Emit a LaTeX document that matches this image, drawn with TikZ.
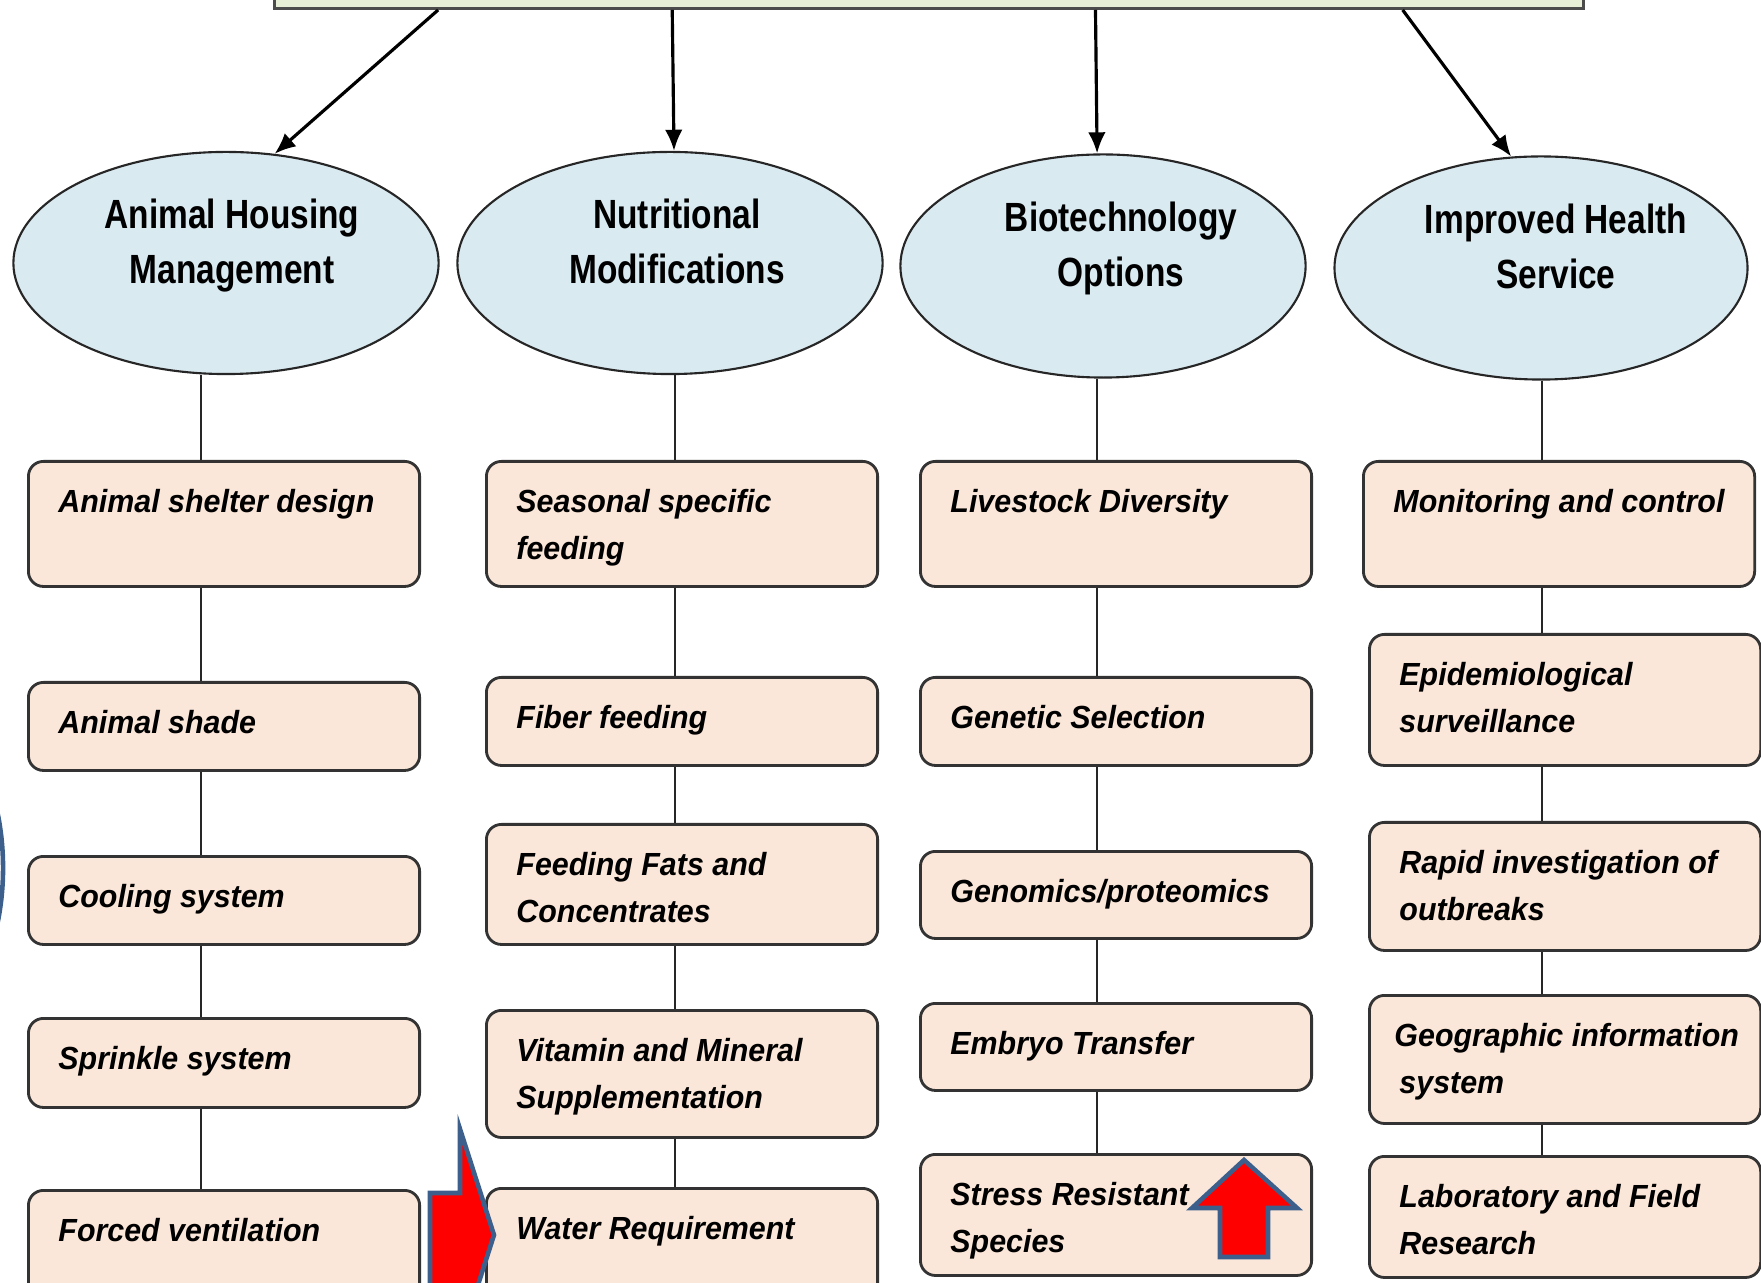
\documentclass[tikz,border=0pt]{standalone}
\usepackage{fontspec}
\setmainfont{Liberation Sans}
\newfontfamily\leaffont[FakeStretch=0.95]{Liberation Sans}
\newfontfamily\ovalfont[FakeStretch=0.82]{Liberation Sans}
\usetikzlibrary{shapes.geometric,arrows.meta}

\definecolor{leaffill}{HTML}{FBE7D9}
\definecolor{ovalfill}{HTML}{DAEAF1}
\definecolor{goalfill}{HTML}{E7F0D6}
\definecolor{markblue}{HTML}{3D5F8B}

\newcommand{\leaftext}[2]{\parbox[c][#1][t]{3.31cm}{\raggedright\strut #2}}
\newcommand{\ovaltext}[3][0cm]{\begin{tabular}{@{\hspace{#1}}c@{}}#2\\#3\\[0.36cm]\end{tabular}}

\tikzset{
  leaf/.style={draw=black!80, line width=0.8pt, fill=leaffill, rounded corners=0.15cm,
    anchor=north west, inner xsep=0.3cm, inner ysep=0.18cm,
    font=\leaffont\fontsize{9.1}{13.4}\selectfont\bfseries\itshape},
  oval/.style={ellipse, draw=black!85, line width=0.6pt, fill=ovalfill, inner sep=0pt,
    font=\ovalfont\fontsize{11.6}{15.6}\selectfont\bfseries},
  goalbox/.style={draw=black!70, line width=0.8pt, fill=goalfill, inner sep=0pt,
    minimum width=13.08cm, minimum height=1cm},
  feed/.style={-{Latex[length=6pt,width=5pt]}, line width=0.9pt},
  spine/.style={line width=0.6pt, black!85},
  bigarrow/.style={draw=markblue, line width=1.3pt, fill=red, line join=miter}
}

\begin{document}
\begin{tikzpicture}[x=0.01cm, y=-0.01cm]
\clip (0,0) rectangle (1761,1283);

\node[goalbox, anchor=south west] (goal) at (273,10) {};

\node[oval, minimum width=4.25cm, minimum height=2.22cm] (housing) at (226,263) {\ovaltext[0.12cm]{Animal Housing}{Management}};
\node[oval, minimum width=4.25cm, minimum height=2.22cm] (nutrition) at (670,263) {\ovaltext[0.14cm]{Nutritional}{Modifications}};
\node[oval, minimum width=4.05cm, minimum height=2.23cm] (biotech) at (1103,266) {\ovaltext[0.36cm]{Biotechnology}{Options}};
\node[oval, minimum width=4.11cm, minimum height=2.23cm] (health) at (1541,268) {\ovaltext[0.3cm]{Improved Health}{Service}};

\draw[feed] ([xshift=1.65cm]goal.south west) -- (housing.66);
\draw[feed] ([xshift=3.99cm]goal.south west) -- ([xshift=0.04cm]nutrition.north);
\draw[feed] ([xshift=8.22cm]goal.south west) -- (biotech.93);
\draw[feed] ([xshift=11.29cm]goal.south west) -- (health.105);

\node[leaf] (shelter) at (27,460) {\leaftext{0.89cm}{Animal shelter design}};
\node[leaf] (shade) at (27,681) {\leaftext{0.52cm}{Animal shade}};
\node[leaf] (cooling) at (27,855) {\leaftext{0.52cm}{Cooling system}};
\node[leaf] (sprinkle) at (27,1017) {\leaftext{0.53cm}{Sprinkle system}};
\node[leaf] (ventilation) at (27,1189) {\leaftext{0.85cm}{Forced ventilation}};

\node[leaf] (seasonal) at (485,460) {\leaftext{0.89cm}{Seasonal specific\\feeding}};
\node[leaf] (fiber) at (485,676) {\leaftext{0.52cm}{Fiber feeding}};
\node[leaf] (fats) at (485,823) {\leaftext{0.84cm}{Feeding Fats and\\Concentrates}};
\node[leaf] (vitamin) at (485,1009) {\leaftext{0.91cm}{Vitamin and Mineral\\Supplementation}};
\node[leaf] (water) at (485,1187) {\leaftext{0.85cm}{Water Requirement}};

\node[leaf] (diversity) at (919,460) {\leaftext{0.89cm}{Livestock Diversity}};
\node[leaf] (genetic) at (919,676) {\leaftext{0.52cm}{Genetic Selection}};
\node[leaf] (genomics) at (919,850) {\leaftext{0.51cm}{Genomics/proteomics}};
\node[leaf] (embryo) at (919,1002) {\leaftext{0.51cm}{Embryo Transfer}};
\node[leaf] (stress) at (919,1153) {\leaftext{0.85cm}{Stress Resistant\\Species}};

\node[leaf] (monitoring) at (1362,460) {\leaftext{0.89cm}{Monitoring and control}};
\node[leaf] (surveillance) at (1368,633) {\leaftext{0.95cm}{Epidemiological\\surveillance}};
\node[leaf] (outbreaks) at (1368,821) {\leaftext{0.92cm}{Rapid investigation of\\outbreaks}};
\node[leaf] (gis) at (1368,994) {\leaftext{0.92cm}{\hspace*{-0.05cm}\mbox{Geographic information}\\system}};
\node[leaf] (research) at (1368,1155) {\leaftext{0.85cm}{Laboratory and Field\\Research}};

\coordinate (col1) at (201,0);
\coordinate (col2) at (675,0);
\coordinate (col3) at (1097,0);
\coordinate (col4) at (1542,0);

\foreach \a/\b/\c in {housing/shelter/col1, shelter/shade/col1, shade/cooling/col1, cooling/sprinkle/col1, sprinkle/ventilation/col1,
  nutrition/seasonal/col2, seasonal/fiber/col2, fiber/fats/col2, fats/vitamin/col2, vitamin/water/col2,
  biotech/diversity/col3, diversity/genetic/col3, genetic/genomics/col3, genomics/embryo/col3, embryo/stress/col3,
  health/monitoring/col4, monitoring/surveillance/col4, surveillance/outbreaks/col4, outbreaks/gis/col4, gis/research/col4}
  \draw[spine] (\a.south -| \c) -- (\b.north -| \c);

\draw[bigarrow] (430,1193) -- (460,1193) -- (460,1129) -- (494,1235) -- (460,1341) -- (460,1300) -- (430,1300) -- cycle;
\draw[bigarrow] (1244,1160) -- (1297,1208) -- (1268,1208) -- (1268,1257) -- (1220,1257) -- (1220,1208) -- (1192,1208) -- cycle;
\draw[markblue, line width=1.3pt] (-100,868) ellipse [x radius=1.03cm, y radius=1.7cm];
\end{tikzpicture}
\end{document}
